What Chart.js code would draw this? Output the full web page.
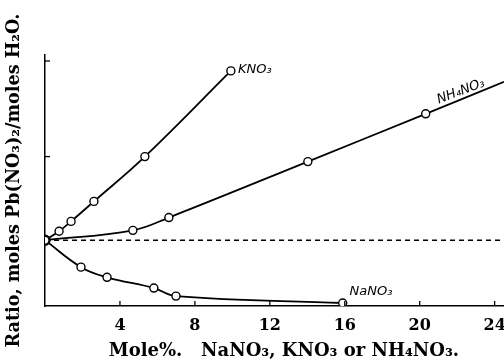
<!DOCTYPE html>
<html>
<head>
<meta charset="utf-8">
<script src="https://cdn.jsdelivr.net/npm/chart.js@4/dist/chart.umd.min.js"></script>
<style>
  html, body { margin: 0; padding: 0; background: #fff; }
  #wrap { width: 504px; height: 363px; }
</style>
</head>
<body>
<div id="wrap"><canvas id="c" width="504" height="363"></canvas></div>
<script>
// ---- data ----
const xTicks = [4, 8, 12, 16, 20, 24];
const yTicks = [1.7, 2.5];            // unlabelled tick marks on the y axis
const kno3X = [0, 0.75, 1.39, 2.61, 5.33, 9.92];
const kno3Y = [1.0, 1.075, 1.158, 1.325, 1.70, 2.417];
const nh4X  = [0, 4.69, 6.61, 14.03, 20.32, 24.5];
const nh4Y  = [1.0, 1.083, 1.19, 1.658, 2.058, 2.325];
const nanoX = [0, 1.92, 3.31, 5.81, 6.99, 15.89];
const nanoY = [1.0, 0.775, 0.69, 0.60, 0.533, 0.475];
const refX  = [0, 24.5];
const refY  = [1.0, 1.0];
const seriesNames = ['KNO₃', 'NH₄NO₃', 'NaNO₃'];
const nameX = [10.3, 22.2, 17.4];
const nameY = [2.425, 2.245, 0.567];
const xTitle = '   Mole%.   NaNO₃, KNO₃ or NH₄NO₃.';
const yTitle = 'Ratio, moles Pb(NO₃)₂/moles H₂O.';

const pts = (xs, ys) => xs.map((x, i) => ({ x: x, y: ys[i] }));

const lineStyle = {
  borderColor: '#000', borderWidth: 1.8, pointRadius: 4, pointBorderWidth: 1.4,
  pointBackgroundColor: '#fff', pointBorderColor: '#000',
  tension: 0.4, fill: false
};

const tickPlugin = {
  id: 'innerTicks',
  afterDatasetsDraw(chart) {
    const { ctx, scales: { x, y } } = chart;
    ctx.save();
    ctx.strokeStyle = '#000';
    ctx.lineWidth = 1.3;
    xTicks.forEach(v => {
      const px = x.getPixelForValue(v);
      ctx.beginPath(); ctx.moveTo(px, y.bottom); ctx.lineTo(px, y.bottom - 5); ctx.stroke();
    });
    yTicks.forEach(v => {
      const py = y.getPixelForValue(v);
      ctx.beginPath(); ctx.moveTo(x.left, py); ctx.lineTo(x.left + 5, py); ctx.stroke();
    });
    // series names
    ctx.fillStyle = '#000';
    ctx.font = 'italic 13px "DejaVu Sans"';
    ctx.textBaseline = 'middle';
    seriesNames.forEach((t, i) => {
      const px = x.getPixelForValue(nameX[i]);
      const py = y.getPixelForValue(nameY[i]);
      ctx.save();
      ctx.translate(px, py);
      if (i === 1) { ctx.rotate(-0.36); ctx.textAlign = 'center'; }
      else if (i === 0) { ctx.textAlign = 'left'; }
      else { ctx.textAlign = 'center'; }
      ctx.fillText(t, 0, 0);
      ctx.restore();
    });
    ctx.restore();
  }
};

new Chart(document.getElementById('c'), {
  type: 'line',
  data: {
    datasets: [
      Object.assign({ label: seriesNames[0], data: pts(kno3X, kno3Y) }, lineStyle),
      Object.assign({ label: seriesNames[1], data: pts(nh4X, nh4Y) }, lineStyle,
        { pointRadius: nh4X.map((v, i) => (i === 0 || i === nh4X.length - 1) ? 0 : 4) }),
      Object.assign({ label: seriesNames[2], data: pts(nanoX, nanoY) }, lineStyle,
        { pointRadius: nanoX.map((v, i) => i === 0 ? 5 : 4) }),
      { label: 'ref', data: pts(refX, refY), borderColor: '#000', borderWidth: 1.5,
        borderDash: [5, 4], pointRadius: 0, fill: false }
    ]
  },
  options: {
    responsive: false,
    animation: false,
    devicePixelRatio: 1,
    layout: { autoPadding: false, padding: { top: 55, right: 0, left: 0, bottom: 1 } },
    plugins: { legend: { display: false }, tooltip: { enabled: false } },
    scales: {
      x: {
        type: 'linear', min: 0, max: 24.5,
        afterBuildTicks: s => { s.ticks = xTicks.map(v => ({ value: v })); },
        afterFit: s => { s.paddingRight = 0; },
        ticks: { color: '#000', font: { family: 'DejaVu Serif', size: 16, weight: 'bold' },
                 padding: 10, maxRotation: 0, autoSkip: false },
        grid: { drawOnChartArea: false, drawTicks: false },
        border: { display: true, color: '#000', width: 1.5 },
        title: { display: true, text: xTitle, color: '#000',
                 font: { family: 'DejaVu Serif', size: 18, weight: 'bold' },
                 padding: { top: -4.8, bottom: 0 } }
      },
      y: {
        type: 'linear', min: 0.45, max: 2.55,
        ticks: { display: false },
        grid: { drawOnChartArea: false, drawTicks: false },
        border: { display: true, color: '#000', width: 1.5 },
        title: { display: true, text: yTitle, color: '#000',
                 font: { family: 'DejaVu Serif', size: 17.6, weight: 'bold' },
                 padding: { top: 4, bottom: 19.9 } }
      }
    }
  },
  plugins: [tickPlugin]
});
</script>
</body>
</html>
